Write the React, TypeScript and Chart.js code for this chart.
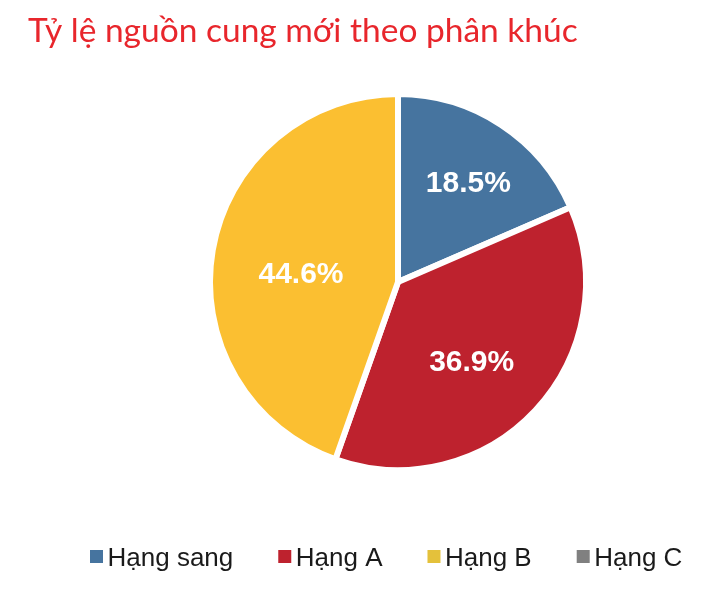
import { Chart, registerables } from "chart.js";
import React, { useEffect, useRef } from "react";

Chart.register(...registerables);

const title = "Tỷ lệ nguồn cung mới theo phân khúc";
const segments = ["Hạng sang", "Hạng A", "Hạng B", "Hạng C"];
const shares = [18.5, 36.9, 44.6, 0];
const sliceColors = ["#46749F", "#BE222E", "#FBBF31", "#808080"];
const legendColors = ["#46749F", "#BE222E", "#E4C13B", "#808080"];
// label anchor offsets, in units of the pie radius (Excel "best fit" spots)
const labelOffsets = [
  [0.374, -0.53],
  [0.392, 0.425],
  [-0.516, -0.043],
];

const decorPlugin = {
  id: "decor",
  afterDatasetsDraw(chart: any) {
    const ctx = chart.ctx;
    const meta = chart.getDatasetMeta(0);
    ctx.save();

    // title
    ctx.fillStyle = "#E8262C";
    ctx.font = '33.5px Lato';
    ctx.textAlign = "left";
    ctx.textBaseline = "alphabetic";
    ctx.fillText(title, 28, 42);

    // slice labels
    ctx.fillStyle = "#ffffff";
    ctx.font = 'bold 30px "Liberation Sans", Arial, sans-serif';
    ctx.textAlign = "center";
    ctx.textBaseline = "middle";
    meta.data.forEach((arc: any, i: number) => {
      if (!shares[i]) return;
      const { x, y, outerRadius } = arc.getProps(["x", "y", "outerRadius"], true);
      const [ox, oy] = labelOffsets[i];
      ctx.fillText(shares[i].toFixed(1) + "%", x + ox * outerRadius, y + oy * outerRadius + 1);
    });

    // legend
    ctx.font = '26px "Liberation Sans", Arial, sans-serif';
    ctx.textAlign = "left";
    ctx.textBaseline = "alphabetic";
    let lx = 90;
    segments.forEach((name, i) => {
      ctx.fillStyle = legendColors[i];
      ctx.fillRect(lx, 550, 13, 13);
      ctx.fillStyle = "#1a1a1a";
      ctx.fillText(name, lx + 17.5, 566);
      lx += 17.5 + ctx.measureText(name).width + 45;
    });
    ctx.restore();
  },
};

const App: React.FC = () => {
  const canvasRef = useRef<HTMLCanvasElement>(null);

  useEffect(() => {
    if (!canvasRef.current) return;
    const chart = new Chart(canvasRef.current, {
      type: "pie",
      data: {
        labels: segments,
        datasets: [
          {
            data: shares,
            backgroundColor: sliceColors,
            borderColor: "#ffffff",
            borderWidth: 6,
          },
        ],
      },
      options: {
        responsive: false,
        animation: false,
        devicePixelRatio: 1,
        layout: { padding: { left: 207, top: 91, right: 117, bottom: 117 } },
        plugins: {
          legend: { display: false },
          title: { display: false },
          tooltip: { enabled: false },
        },
      },
      plugins: [decorPlugin],
    });
    return () => chart.destroy();
  }, []);

  return (
    <div style={{ position: "absolute", left: 0, top: 0, width: 706, height: 590, background: "#fff" }}>
      <canvas ref={canvasRef} width={706} height={590} style={{ width: 706, height: 590 }} />
    </div>
  );
};

export default App;
